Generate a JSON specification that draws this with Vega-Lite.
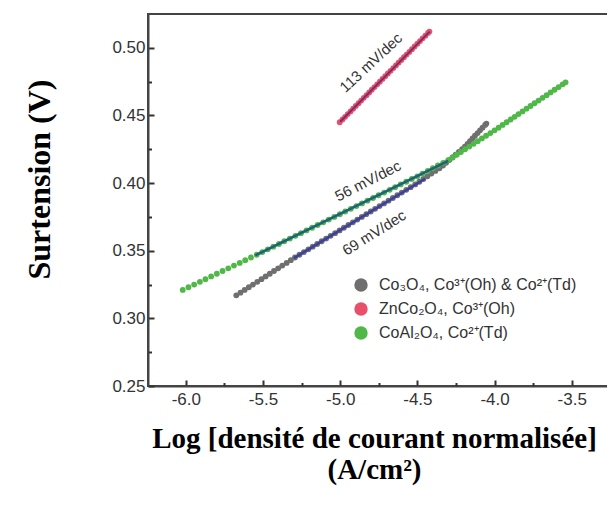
{
  "$schema": "https://vega.github.io/schema/vega-lite/v6.json",
  "autosize": {"type": "none"},
  "width": 460,
  "height": 372,
  "padding": {"left": 148, "top": 14, "right": 0, "bottom": 130},
  "background": "white",
  "config": {
    "view": {"stroke": "#444", "strokeWidth": 2},
    "axis": {"grid": false, "domainColor": "#444", "domainWidth": 2, "tickColor": "#333", "tickWidth": 2, "labelFont": "Liberation Sans", "labelFontSize": 17, "labelColor": "#333"}
  },
  "datasets": {
    "co3o4": [
      {"x": -5.673, "y": 0.317}, {"x": -5.646, "y": 0.319}, {"x": -5.619, "y": 0.321}, {"x": -5.592, "y": 0.323}, {"x": -5.565, "y": 0.325}, {"x": -5.537, "y": 0.327}, {"x": -5.510, "y": 0.329}, {"x": -5.483, "y": 0.331}, {"x": -5.456, "y": 0.333}, {"x": -5.429, "y": 0.335}, {"x": -5.402, "y": 0.337}, {"x": -5.375, "y": 0.339}, {"x": -5.347, "y": 0.341}, {"x": -5.320, "y": 0.343},
      {"x": -5.293, "y": 0.345}, {"x": -5.264, "y": 0.347}, {"x": -5.235, "y": 0.349}, {"x": -5.206, "y": 0.351}, {"x": -5.178, "y": 0.353}, {"x": -5.149, "y": 0.355}, {"x": -5.120, "y": 0.357}, {"x": -5.091, "y": 0.359}, {"x": -5.062, "y": 0.361}, {"x": -5.033, "y": 0.363}, {"x": -5.004, "y": 0.365}, {"x": -4.976, "y": 0.367}, {"x": -4.947, "y": 0.369}, {"x": -4.918, "y": 0.371}, {"x": -4.889, "y": 0.373}, {"x": -4.860, "y": 0.375}, {"x": -4.831, "y": 0.377}, {"x": -4.802, "y": 0.379}, {"x": -4.774, "y": 0.381}, {"x": -4.745, "y": 0.383}, {"x": -4.716, "y": 0.385}, {"x": -4.687, "y": 0.387}, {"x": -4.659, "y": 0.389}, {"x": -4.630, "y": 0.391}, {"x": -4.601, "y": 0.393}, {"x": -4.572, "y": 0.395}, {"x": -4.543, "y": 0.397}, {"x": -4.514, "y": 0.399},
      {"x": -4.487, "y": 0.401}, {"x": -4.461, "y": 0.403}, {"x": -4.435, "y": 0.405}, {"x": -4.409, "y": 0.407}, {"x": -4.383, "y": 0.409}, {"x": -4.357, "y": 0.411},
      {"x": -4.334, "y": 0.413}, {"x": -4.314, "y": 0.415}, {"x": -4.293, "y": 0.417}, {"x": -4.272, "y": 0.419}, {"x": -4.252, "y": 0.421}, {"x": -4.231, "y": 0.423}, {"x": -4.210, "y": 0.425},
      {"x": -4.192, "y": 0.427}, {"x": -4.175, "y": 0.429}, {"x": -4.159, "y": 0.431}, {"x": -4.143, "y": 0.433}, {"x": -4.127, "y": 0.435}, {"x": -4.110, "y": 0.437}, {"x": -4.094, "y": 0.439}, {"x": -4.078, "y": 0.441}, {"x": -4.061, "y": 0.443}, {"x": -4.053, "y": 0.444}
    ],
    "znco2o4": [
      {"x": -5.003, "y": 0.445}, {"x": -4.985, "y": 0.447}, {"x": -4.968, "y": 0.449}, {"x": -4.951, "y": 0.451}, {"x": -4.933, "y": 0.453}, {"x": -4.916, "y": 0.455}, {"x": -4.899, "y": 0.457}, {"x": -4.881, "y": 0.459}, {"x": -4.864, "y": 0.461}, {"x": -4.847, "y": 0.463}, {"x": -4.829, "y": 0.465}, {"x": -4.812, "y": 0.467}, {"x": -4.795, "y": 0.469}, {"x": -4.778, "y": 0.471}, {"x": -4.760, "y": 0.473}, {"x": -4.743, "y": 0.475}, {"x": -4.726, "y": 0.477}, {"x": -4.708, "y": 0.479}, {"x": -4.691, "y": 0.481}, {"x": -4.674, "y": 0.483}, {"x": -4.656, "y": 0.485}, {"x": -4.639, "y": 0.487}, {"x": -4.622, "y": 0.489}, {"x": -4.604, "y": 0.491}, {"x": -4.587, "y": 0.493}, {"x": -4.570, "y": 0.495}, {"x": -4.552, "y": 0.497}, {"x": -4.535, "y": 0.499}, {"x": -4.518, "y": 0.501}, {"x": -4.500, "y": 0.503}, {"x": -4.483, "y": 0.505}, {"x": -4.466, "y": 0.507}, {"x": -4.448, "y": 0.509}, {"x": -4.431, "y": 0.511}, {"x": -4.422, "y": 0.512}
    ],
    "coal2o4": [
      {"x": -6.020, "y": 0.321}, {"x": -5.983, "y": 0.323}, {"x": -5.946, "y": 0.325}, {"x": -5.909, "y": 0.327}, {"x": -5.873, "y": 0.329}, {"x": -5.836, "y": 0.331}, {"x": -5.799, "y": 0.333}, {"x": -5.762, "y": 0.335}, {"x": -5.725, "y": 0.337}, {"x": -5.688, "y": 0.339}, {"x": -5.651, "y": 0.341}, {"x": -5.615, "y": 0.343}, {"x": -5.578, "y": 0.345},
      {"x": -5.541, "y": 0.347}, {"x": -5.505, "y": 0.349}, {"x": -5.469, "y": 0.351}, {"x": -5.433, "y": 0.353}, {"x": -5.397, "y": 0.355}, {"x": -5.362, "y": 0.357}, {"x": -5.326, "y": 0.359}, {"x": -5.290, "y": 0.361}, {"x": -5.254, "y": 0.363}, {"x": -5.218, "y": 0.365}, {"x": -5.182, "y": 0.367}, {"x": -5.146, "y": 0.369}, {"x": -5.110, "y": 0.371}, {"x": -5.074, "y": 0.373}, {"x": -5.038, "y": 0.375}, {"x": -5.002, "y": 0.377}, {"x": -4.967, "y": 0.379}, {"x": -4.931, "y": 0.381}, {"x": -4.895, "y": 0.383}, {"x": -4.859, "y": 0.385}, {"x": -4.823, "y": 0.387}, {"x": -4.787, "y": 0.389}, {"x": -4.751, "y": 0.391}, {"x": -4.715, "y": 0.393}, {"x": -4.679, "y": 0.395}, {"x": -4.644, "y": 0.397}, {"x": -4.608, "y": 0.399}, {"x": -4.572, "y": 0.401}, {"x": -4.536, "y": 0.403}, {"x": -4.500, "y": 0.405},
      {"x": -4.467, "y": 0.407}, {"x": -4.433, "y": 0.409}, {"x": -4.400, "y": 0.411}, {"x": -4.367, "y": 0.413}, {"x": -4.333, "y": 0.415}, {"x": -4.300, "y": 0.417},
      {"x": -4.273, "y": 0.419}, {"x": -4.245, "y": 0.421}, {"x": -4.218, "y": 0.423}, {"x": -4.191, "y": 0.425}, {"x": -4.164, "y": 0.427}, {"x": -4.136, "y": 0.429}, {"x": -4.109, "y": 0.431}, {"x": -4.082, "y": 0.433}, {"x": -4.055, "y": 0.435}, {"x": -4.027, "y": 0.437}, {"x": -4.000, "y": 0.439},
      {"x": -3.974, "y": 0.441}, {"x": -3.948, "y": 0.443}, {"x": -3.922, "y": 0.445}, {"x": -3.896, "y": 0.447}, {"x": -3.870, "y": 0.449}, {"x": -3.845, "y": 0.451}, {"x": -3.819, "y": 0.453}, {"x": -3.793, "y": 0.455}, {"x": -3.767, "y": 0.457}, {"x": -3.741, "y": 0.459}, {"x": -3.715, "y": 0.461}, {"x": -3.689, "y": 0.463}, {"x": -3.663, "y": 0.465}, {"x": -3.637, "y": 0.467}, {"x": -3.611, "y": 0.469}, {"x": -3.585, "y": 0.471}, {"x": -3.559, "y": 0.473}, {"x": -3.540, "y": 0.4745}
    ],
    "fitRed": [{"x": -5.0, "y": 0.4453}, {"x": -4.42, "y": 0.512}],
    "fitBlue": [{"x": -5.30, "y": 0.3445}, {"x": -4.45, "y": 0.4032}],
    "fitTeal": [{"x": -5.55, "y": 0.3465}, {"x": -4.30, "y": 0.4165}],
    "lab113": [{"x": -4.80, "y": 0.489, "label": "113 mV/dec"}],
    "lab56": [{"x": -4.82, "y": 0.4016, "label": "56 mV/dec"}],
    "lab69": [{"x": -4.78, "y": 0.3632, "label": "69 mV/dec"}]
  },
  "encoding": {
    "x": {"field": "x", "type": "quantitative", "scale": {"domain": [-6.245, -3.265], "nice": false, "zero": false}, "axis": null},
    "y": {"field": "y", "type": "quantitative", "scale": {"domain": [0.25, 0.525], "nice": false, "zero": false}, "axis": null}
  },
  "layer": [
    {
      "data": {"name": "co3o4"},
      "mark": {"type": "point", "filled": true, "size": 34, "opacity": 1},
      "encoding": {
        "x": {"field": "x", "type": "quantitative", "axis": {"orient": "bottom", "values": [-6, -5.5, -5, -4.5, -4, -3.5], "labelExpr": "(datum.value < 0 ? '-' : '') + format(abs(datum.value), '.1f')", "tickSize": -6, "labelPadding": 11, "title": ["Log [densité de courant normalisée]", "(A/cm²)"], "titleFont": "Liberation Serif", "titleFontWeight": "bold", "titleFontSize": 29, "titleColor": "black", "titleAlign": "center", "titleBaseline": "top", "titleAnchor": "middle", "titleX": 226, "titleY": 38, "titleLineHeight": 31}},
        "y": {"field": "y", "type": "quantitative", "axis": {"orient": "left", "values": [0.25, 0.3, 0.35, 0.4, 0.45, 0.5], "format": ".2f", "tickSize": -6, "labelPadding": 9, "title": "Surtension (V)", "titleFont": "Liberation Serif", "titleFontWeight": "bold", "titleFontSize": 32, "titleColor": "black", "titleAngle": -90, "titleAlign": "center", "titleBaseline": "middle", "titleX": -109, "titleY": 165}},
        "color": {"datum": "Co₃O₄, Co³⁺(Oh) & Co²⁺(Td)", "type": "nominal",
          "scale": {"domain": ["Co₃O₄, Co³⁺(Oh) & Co²⁺(Td)", "ZnCo₂O₄, Co³⁺(Oh)", "CoAl₂O₄, Co²⁺(Td)"], "range": ["#6f6f6f", "#e8506a", "#4fb848"]},
          "legend": {"title": null, "orient": "none", "legendX": 205, "legendY": 263, "symbolType": "circle", "symbolSize": 180, "symbolStrokeWidth": 0, "labelFont": "Liberation Sans", "labelFontSize": 16, "labelColor": "#333", "labelLimit": 400, "rowPadding": 8, "labelOffset": 10}}
      }
    },
    {
      "data": {"name": "coal2o4"},
      "mark": {"type": "point", "filled": true, "size": 34, "opacity": 1},
      "encoding": {
        "x": {"field": "x", "type": "quantitative", "axis": {"orient": "bottom", "values": [-5.75, -5.25, -4.75, -4.25, -3.75], "labels": false, "domain": false, "tickSize": -3.5, "title": null}},
        "y": {"field": "y", "type": "quantitative", "axis": {"orient": "left", "values": [0.275, 0.325, 0.375, 0.425, 0.475], "labels": false, "domain": false, "tickSize": -3.5, "title": null}},
        "color": {"datum": "CoAl₂O₄, Co²⁺(Td)", "type": "nominal"}
      }
    },
    {
      "data": {"name": "znco2o4"},
      "mark": {"type": "point", "filled": true, "size": 34, "opacity": 1},
      "encoding": {"color": {"datum": "ZnCo₂O₄, Co³⁺(Oh)", "type": "nominal"}}
    },
    {"data": {"name": "fitRed"}, "mark": {"type": "line", "color": "#7b2d6b", "strokeWidth": 2}, "encoding": {}},
    {"data": {"name": "fitBlue"}, "mark": {"type": "line", "color": "#3b3fa0", "strokeWidth": 2.5}, "encoding": {}},
    {"data": {"name": "fitTeal"}, "mark": {"type": "line", "color": "#20607a", "strokeWidth": 2.5}, "encoding": {}},
    {"data": {"name": "lab113"}, "mark": {"type": "text", "angle": -43, "font": "Liberation Sans", "fontSize": 15, "color": "#333"}, "encoding": {"text": {"field": "label"}}},
    {"data": {"name": "lab56"}, "mark": {"type": "text", "angle": -27, "font": "Liberation Sans", "fontSize": 15, "color": "#333"}, "encoding": {"text": {"field": "label"}}},
    {"data": {"name": "lab69"}, "mark": {"type": "text", "angle": -32, "font": "Liberation Sans", "fontSize": 15, "color": "#333"}, "encoding": {"text": {"field": "label"}}}
  ],
  "resolve": {"axis": {"x": "independent", "y": "independent"}}
}
